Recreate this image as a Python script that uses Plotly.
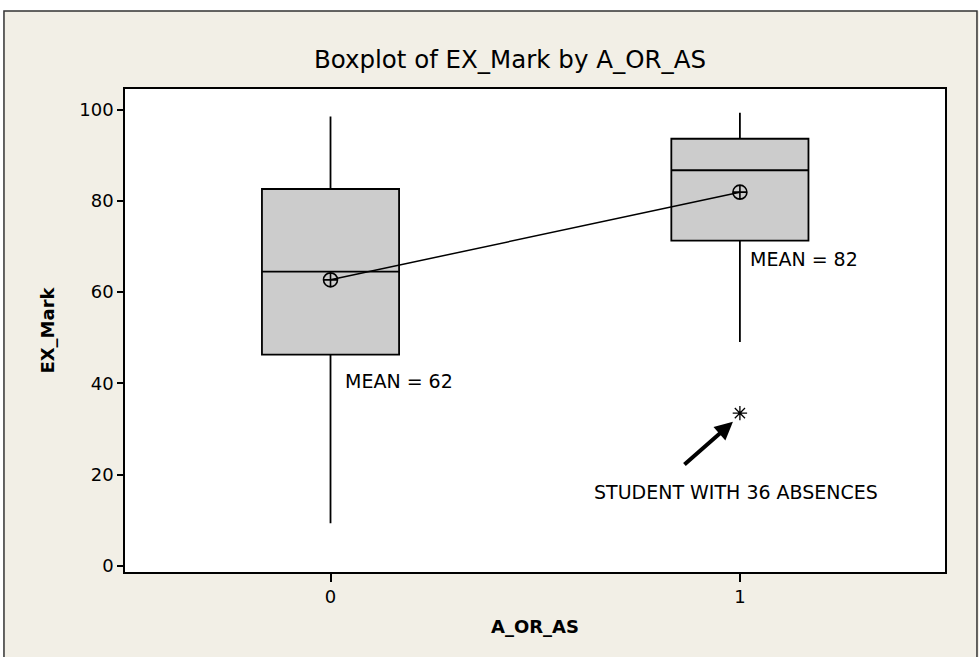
import plotly.graph_objects as go

groups = [0, 1]
q1 = [46.3, 71.3]
median = [64.5, 86.7]
q3 = [82.6, 93.6]
whisker_low = [9.4, 49.1]
whisker_high = [98.5, 99.3]
means = [62.7, 81.9]
outlier_x = [1]
outlier_y = [33.5]
mean_labels = ["MEAN = 62", "MEAN = 82"]
note_text = "STUDENT WITH 36 ABSENCES"

BEIGE = "#F2EFE6"
FONT = "DejaVu Sans"

fig = go.Figure()
fig.add_trace(go.Box(
    x=groups, q1=q1, median=median, q3=q3,
    lowerfence=whisker_low, upperfence=whisker_high,
    fillcolor="#CCCCCC", line=dict(color="black", width=1.8),
    whiskerwidth=0, width=0.335, boxpoints=False, showlegend=False,
    hoverinfo="skip"))
fig.add_trace(go.Scatter(
    x=groups, y=means, mode="lines+markers",
    line=dict(color="black", width=1.5),
    marker=dict(symbol="circle-cross-open", size=14, color="black",
                line=dict(width=1.6)),
    showlegend=False))
fig.add_trace(go.Scatter(
    x=outlier_x, y=outlier_y, mode="markers",
    marker=dict(symbol="asterisk-open", size=12, color="black",
                line=dict(width=1.3, color="black")),
    showlegend=False))

# annotations
mx = [0.03, 1.02]
my = [40.6, 67.3]
for i in range(2):
    fig.add_annotation(x=mx[i], y=my[i], text=mean_labels[i], showarrow=False,
                       xanchor="left", yanchor="middle",
                       font=dict(family=FONT, size=19, color="black"))
fig.add_annotation(x=0.99, y=16.2, text=note_text, showarrow=False,
                   xanchor="center", yanchor="middle",
                   font=dict(family=FONT, size=19, color="black"))
fig.add_annotation(x=0.983, y=31.6, ax=-50, ay=44, text="", showarrow=True,
                   arrowhead=2, arrowsize=0.9, arrowwidth=4, arrowcolor="black",
                   xref="x", yref="y", axref="pixel", ayref="pixel")

# outer frame
fig.add_shape(type="rect", xref="paper", yref="paper",
              x0=-0.2, x1=1.2, y0=1.1615, y1=1.3, fillcolor="white",
              line=dict(width=0), layer="above")
fig.add_shape(type="rect", xref="paper", yref="paper",
              x0=-0.2, x1=-0.1476, y0=-0.3, y1=1.3, fillcolor="white",
              line=dict(width=0), layer="above")
fig.add_shape(type="rect", xref="paper", yref="paper",
              x0=-0.1476, x1=1.039, y0=-0.2, y1=1.1615,
              line=dict(color="#333333", width=1.5), layer="above")

fig.update_layout(
    width=979, height=657,
    margin=dict(l=125, r=34, t=89, b=85),
    paper_bgcolor=BEIGE, plot_bgcolor="white",
    title=dict(text="Boxplot of EX_Mark by A_OR_AS", x=0.4695, xref="paper",
               xanchor="center", y=(657 - 59) / 657, yanchor="middle",
               font=dict(family=FONT, size=24.5, color="black")),
    font=dict(family=FONT, size=18, color="black"),
)
fig.update_xaxes(range=[-0.502, 1.501], tickvals=groups,
                 ticktext=[str(g) for g in groups],
                 showline=True, linecolor="black", linewidth=1.5, mirror=True,
                 ticks="outside", ticklen=8, tickwidth=1.5, tickcolor="black",
                 showgrid=False, zeroline=False,
                 tickfont=dict(family=FONT, size=18),
                 title=dict(text="<b>A_OR_AS</b>", standoff=14,
                            font=dict(family=FONT, size=18)))
fig.update_yaxes(range=[-1.3, 104.5], tickvals=[0, 20, 40, 60, 80, 100],
                 showline=True, linecolor="black", linewidth=1.5, mirror=True,
                 ticks="outside", ticklen=6, tickwidth=1.5, tickcolor="black",
                 showgrid=False, zeroline=False,
                 tickfont=dict(family=FONT, size=18),
                 title=dict(text="<b>EX_Mark</b>", standoff=20,
                            font=dict(family=FONT, size=18)))

fig.write_html("out.html", config={"displayModeBar": False},
               post_script="document.body.style.margin='0';")
